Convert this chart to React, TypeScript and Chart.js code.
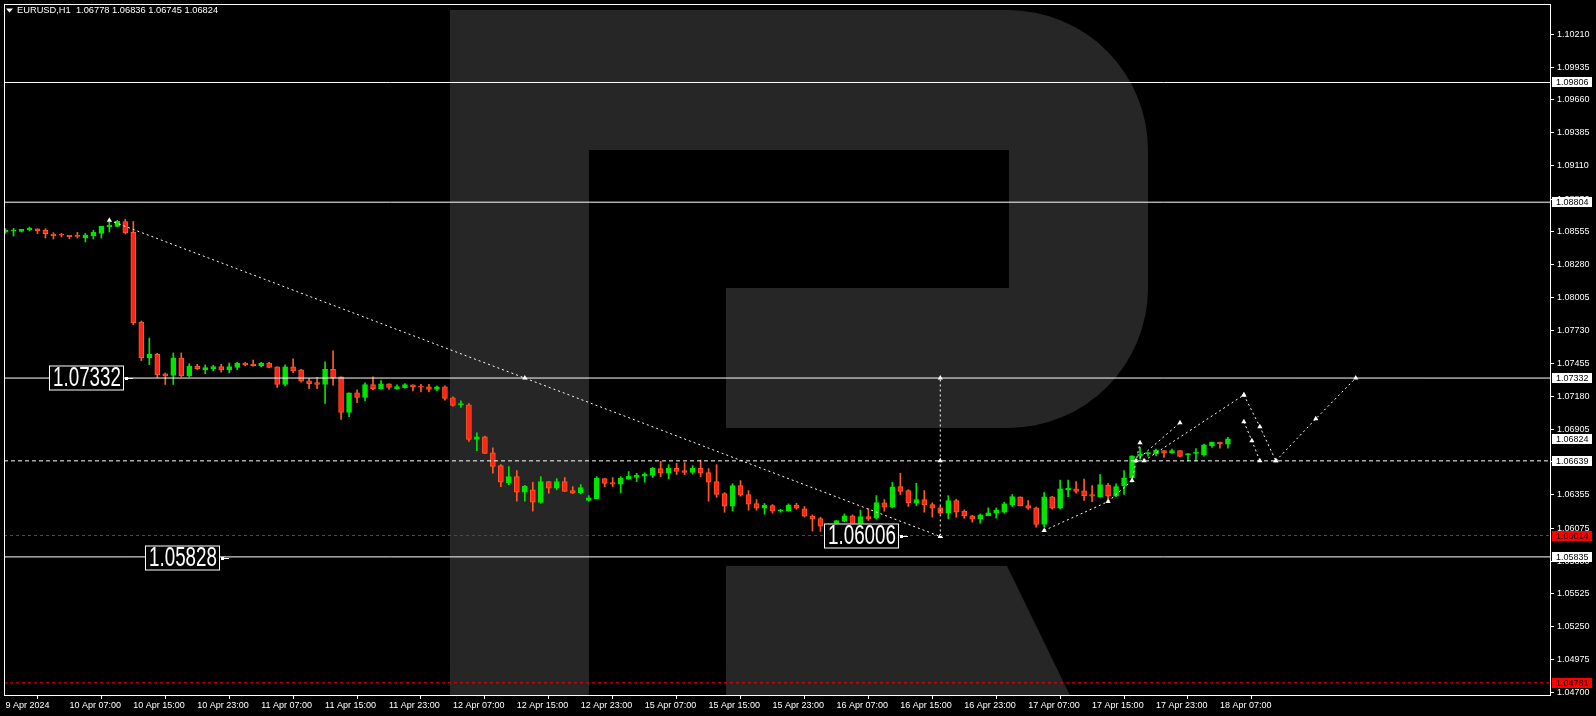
import React, { useEffect, useRef } from "react";
import { Chart, registerables } from "chart.js";

Chart.register(...registerables);

const HEADER_TEXT = "EURUSD,H1  1.06778 1.06836 1.06745 1.06824";

const TIME_TICK_BARS = [0, 8, 16, 24, 32, 40, 48, 56, 64, 72, 80, 88, 96, 104, 112, 120, 128, 136, 144, 152];
const TIME_TICK_LABELS = [
  "9 Apr 2024", "10 Apr 07:00", "10 Apr 15:00", "10 Apr 23:00", "11 Apr 07:00", "11 Apr 15:00",
  "11 Apr 23:00", "12 Apr 07:00", "12 Apr 15:00", "12 Apr 23:00", "15 Apr 07:00", "15 Apr 15:00",
  "15 Apr 23:00", "16 Apr 07:00", "16 Apr 15:00", "16 Apr 23:00", "17 Apr 07:00", "17 Apr 15:00",
  "17 Apr 23:00", "18 Apr 07:00",
];

const PRICE_TICKS = [
  1.047, 1.04975, 1.0525, 1.05525, 1.058, 1.06075, 1.06355, 1.0663, 1.06905, 1.0718, 1.07455,
  1.0773, 1.08005, 1.0828, 1.08555, 1.0883, 1.0911, 1.09385, 1.0966, 1.09935, 1.1021,
];

const OPEN = [
  1.08554, 1.08563, 1.0856, 1.08571, 1.08582, 1.08568, 1.08538, 1.08532, 1.08527, 1.08524,
  1.08504, 1.08521, 1.08543, 1.08596, 1.08602, 1.08641, 1.08552, 1.078, 1.075, 1.07531,
  1.07367, 1.07353, 1.075, 1.0735, 1.07433, 1.074, 1.07411, 1.07428, 1.074, 1.0742,
  1.07458, 1.0745, 1.07433, 1.07458, 1.07425, 1.07278, 1.07425, 1.074, 1.07308, 1.07294,
  1.07278, 1.07406, 1.07342, 1.07044, 1.07208, 1.07169, 1.07277, 1.07244, 1.07283, 1.07244,
  1.07252, 1.07275, 1.07261, 1.07258, 1.07236, 1.07258, 1.07166, 1.07108, 1.07108, 1.06818,
  1.06841, 1.06707, 1.06599, 1.06457, 1.06507, 1.06376, 1.06396, 1.0629, 1.06466, 1.0641,
  1.06466, 1.0639, 1.06373, 1.06307, 1.06323, 1.0649, 1.06457, 1.06443, 1.06485, 1.06501,
  1.0651, 1.06518, 1.06574, 1.06535, 1.06576, 1.06557, 1.06543, 1.06576, 1.0654, 1.06466,
  1.06365, 1.06259, 1.06432, 1.06357, 1.06282, 1.06243, 1.06265, 1.06218, 1.06218, 1.06268,
  1.06237, 1.06176, 1.06156, 1.06095, 1.06104, 1.06131, 1.06179, 1.06095, 1.06173, 1.06159,
  1.06287, 1.06251, 1.06423, 1.0639, 1.06284, 1.06315, 1.06273, 1.06245, 1.06201, 1.06307,
  1.06218, 1.06179, 1.06151, 1.06181, 1.06201, 1.06209, 1.06273, 1.06337, 1.06265, 1.06245,
  1.06106, 1.06337, 1.06243, 1.06396, 1.06404, 1.06387, 1.06357, 1.0634, 1.06437, 1.06343,
  1.06429, 1.06496, 1.06679, 1.06699, 1.06699, 1.06724, 1.06704, 1.06724, 1.06688, 1.06702,
  1.06688, 1.06766, 1.06796, 1.06778,
];
const HIGH = [
  1.08582, 1.08585, 1.08577, 1.08596, 1.08582, 1.08582, 1.08549, 1.08543, 1.08527, 1.08552,
  1.08543, 1.08568, 1.08602, 1.08635, 1.08652, 1.0866, 1.08643, 1.07809, 1.07667, 1.07539,
  1.07375, 1.07542, 1.07542, 1.07453, 1.07447, 1.07442, 1.07439, 1.07447, 1.07458, 1.07464,
  1.07464, 1.07483, 1.07464, 1.07464, 1.07425, 1.07442, 1.07492, 1.07406, 1.0733, 1.07339,
  1.07467, 1.07559, 1.07342, 1.07208, 1.07233, 1.07291, 1.07342, 1.0731, 1.07283, 1.07275,
  1.07286, 1.07275, 1.0728, 1.0728, 1.07266, 1.07266, 1.07175, 1.07141, 1.07119, 1.06874,
  1.06846, 1.06749, 1.06607, 1.0659, 1.06557, 1.06434, 1.0646, 1.06507, 1.06466, 1.0649,
  1.06499, 1.06423, 1.0644, 1.06348, 1.06507, 1.0649, 1.06499, 1.06507, 1.06549, 1.06535,
  1.0654, 1.06585, 1.06635, 1.06607, 1.06618, 1.06624, 1.06599, 1.06646, 1.06574, 1.06607,
  1.06373, 1.06448, 1.06474, 1.0639, 1.06315, 1.06282, 1.06273, 1.06234, 1.06279, 1.06284,
  1.06257, 1.06187, 1.06168, 1.06117, 1.0614, 1.06195, 1.06187, 1.06226, 1.06237, 1.06348,
  1.06315, 1.0646, 1.06535, 1.06398, 1.06451, 1.0639, 1.06287, 1.06257, 1.06348, 1.06318,
  1.06229, 1.06184, 1.06195, 1.06245, 1.06245, 1.06293, 1.06357, 1.06337, 1.06307, 1.06251,
  1.06373, 1.06343, 1.06479, 1.06479, 1.06465, 1.06487, 1.06432, 1.06524, 1.06451, 1.06446,
  1.06557, 1.06682, 1.06752, 1.06713, 1.06738, 1.06724, 1.06738, 1.06724, 1.06699, 1.06741,
  1.0678, 1.06796, 1.06796, 1.06836,
];
const LOW = [
  1.08543, 1.08521, 1.08554, 1.08563, 1.08541, 1.08504, 1.08496, 1.08513, 1.08499, 1.08504,
  1.08471, 1.08496, 1.08504, 1.08554, 1.08596, 1.08538, 1.07778, 1.07478, 1.07444, 1.07336,
  1.07278, 1.07278, 1.07342, 1.07342, 1.07403, 1.07369, 1.07392, 1.07381, 1.07375, 1.07403,
  1.07433, 1.07431, 1.07425, 1.07417, 1.07253, 1.07267, 1.07378, 1.07297, 1.07244, 1.07244,
  1.07119, 1.07272, 1.06985, 1.07008, 1.07127, 1.07141, 1.07233, 1.07239, 1.07236, 1.07239,
  1.07247, 1.07225, 1.07216, 1.07216, 1.07227, 1.07147, 1.07097, 1.07086, 1.06802, 1.06724,
  1.06699, 1.06535, 1.06423, 1.0644, 1.06301, 1.06301, 1.06218, 1.06284, 1.06368, 1.06396,
  1.06382, 1.06365, 1.06362, 1.06301, 1.06323, 1.06423, 1.06423, 1.06373, 1.06485, 1.06465,
  1.0646, 1.06499, 1.06507, 1.0649, 1.06524, 1.06524, 1.06529, 1.06507, 1.06301, 1.06334,
  1.06209, 1.06218, 1.06343, 1.06226, 1.06226, 1.06193, 1.06201, 1.06209, 1.06218, 1.06234,
  1.06168, 1.06051, 1.06048, 1.06056, 1.06095, 1.06129, 1.06028, 1.0609, 1.0614, 1.06151,
  1.06218, 1.06245, 1.06357, 1.06257, 1.06265, 1.06209, 1.06168, 1.06195, 1.06154, 1.06168,
  1.06159, 1.06126, 1.06117, 1.06181, 1.06159, 1.06201, 1.06257, 1.06262, 1.06234, 1.06084,
  1.06084, 1.06234, 1.06237, 1.0634, 1.06368, 1.06307, 1.06298, 1.06334, 1.0632, 1.0634,
  1.06357, 1.0646, 1.06654, 1.06679, 1.06682, 1.06668, 1.06704, 1.06674, 1.06638, 1.06638,
  1.06679, 1.06752, 1.06746, 1.06745,
];
const CLOSE = [
  1.08571, 1.08568, 1.08577, 1.08588, 1.08563, 1.08541, 1.08524, 1.08527, 1.08515, 1.08518,
  1.08529, 1.08552, 1.08602, 1.08613, 1.08643, 1.08546, 1.07795, 1.07503, 1.07533, 1.07361,
  1.0735, 1.075, 1.0735, 1.07433, 1.07411, 1.0742, 1.07428, 1.074, 1.07428, 1.07458,
  1.07444, 1.07436, 1.07458, 1.0742, 1.07278, 1.07425, 1.07392, 1.07305, 1.07286, 1.07278,
  1.07406, 1.07336, 1.07044, 1.07208, 1.07169, 1.07277, 1.07244, 1.07283, 1.07253, 1.07261,
  1.07278, 1.07258, 1.07255, 1.07236, 1.07258, 1.07161, 1.07102, 1.07119, 1.06818, 1.06841,
  1.06702, 1.06593, 1.0646, 1.06507, 1.06376, 1.06426, 1.06293, 1.06466, 1.0641, 1.06466,
  1.06384, 1.06368, 1.06415, 1.06329, 1.06493, 1.06451, 1.06443, 1.06493, 1.0651, 1.06518,
  1.06526, 1.06576, 1.06535, 1.06576, 1.06551, 1.06543, 1.06576, 1.06535, 1.0646, 1.06359,
  1.06259, 1.06432, 1.06351, 1.06276, 1.06243, 1.06268, 1.06218, 1.06229, 1.06268, 1.06243,
  1.06176, 1.06151, 1.06092, 1.06112, 1.0614, 1.06179, 1.06095, 1.06173, 1.06151, 1.0629,
  1.06251, 1.06421, 1.06384, 1.06287, 1.06315, 1.0627, 1.06243, 1.06201, 1.06307, 1.06209,
  1.06179, 1.06151, 1.06187, 1.06204, 1.06226, 1.06279, 1.0634, 1.06262, 1.06243, 1.06106,
  1.06337, 1.06243, 1.06404, 1.0641, 1.06384, 1.06348, 1.06343, 1.0644, 1.06343, 1.06423,
  1.06496, 1.06682, 1.06696, 1.06707, 1.06727, 1.06704, 1.06724, 1.06677, 1.06699, 1.06707,
  1.06774, 1.06796, 1.06782, 1.06824,
];

const SOLID_LEVELS = [1.09806, 1.08804, 1.07332, 1.05835];
const WHITE_DASH_LEVELS = [1.06639];
const RED_DASH_LEVELS = [1.06014, 1.04781];
const AXIS_WHITE_TAGS = [1.09806, 1.08804, 1.07332, 1.06824, 1.06639, 1.05835];
const AXIS_RED_TAGS = [1.06014, 1.04781];

const PRICE_LABEL_BARS = [15, 27, 112];
const PRICE_LABEL_VALUES = [1.07332, 1.05828, 1.06006];

const TREND_LINE = [[13, 1.08652], [65, 1.07332], [117, 1.06006]];
const TARGET_LINE = [[117, 1.06006], [117, 1.06639], [117, 1.07332]];
const SWING_PATH = [[130, 1.06056], [138, 1.06298], [141, 1.06474], [142, 1.06791]];
const FORECAST_UP_A = [[141.5, 1.06639], [147, 1.06958]];
const FORECAST_UP_B = [[142.5, 1.06639], [155, 1.07191]];
const FORECAST_DOWN_A = [[155, 1.07191], [157, 1.06924], [159, 1.06639]];
const FORECAST_DOWN_B = [[155, 1.06966], [156, 1.06807], [157, 1.06639]];
const FORECAST_FINAL = [[159, 1.06639], [164, 1.06991], [169, 1.07332]];

const X_MIN = -0.1875;
const X_MAX = 193.3125;
const Y_MIN = 1.046791;
const Y_MAX = 1.104629;

const BULL = "#00e600";
const BEAR_FILL = "#ff2418";
const BEAR_EDGE = "#ff5a28";
const FONT = "'Liberation Sans', Arial, sans-serif";

const toPts = (arr: number[][]) => arr.map(([x, y]) => ({ x, y }));

export default function App() {
  const ref = useRef<HTMLCanvasElement | null>(null);

  useEffect(() => {
    const canvas = ref.current;
    if (!canvas) return;
    const up = CLOSE.map((c, i) => c >= OPEN[i]);

    const levelSet = (levels: number[], color: string, dash: number[]) =>
      levels.map((p) => ({
        type: "line" as const,
        data: [{ x: X_MIN, y: p }, { x: X_MAX, y: p }],
        borderColor: color,
        borderWidth: 1,
        borderDash: dash,
        pointRadius: 0,
        order: 0,
      }));

    const pathSet = (arr: number[][]) => ({
      type: "line" as const,
      data: toPts(arr),
      borderColor: "#ffffff",
      borderWidth: 1,
      borderDash: [2, 3],
      pointRadius: 3,
      pointStyle: "triangle",
      pointBackgroundColor: "#ffffff",
      pointBorderColor: "#ffffff",
      pointBorderWidth: 0,
      tension: 0,
      order: 0,
    });

    const logoPlugin = {
      id: "logo",
      beforeDatasetsDraw(chart: any) {
        const { ctx, chartArea: a } = chart;
        ctx.save();
        ctx.beginPath();
        ctx.rect(a.left, a.top, a.right - a.left, a.bottom - a.top);
        ctx.clip();
        ctx.fillStyle = "#262626";
        ctx.fillRect(450, 10, 139, 720);
        ctx.beginPath();
        ctx.moveTo(589, 10);
        ctx.lineTo(1008, 10);
        ctx.arcTo(1148, 10, 1148, 150, 140);
        ctx.lineTo(1148, 288);
        ctx.arcTo(1148, 428, 1008, 428, 140);
        ctx.lineTo(726, 428);
        ctx.lineTo(726, 288);
        ctx.lineTo(1009, 288);
        ctx.lineTo(1009, 150);
        ctx.lineTo(589, 150);
        ctx.closePath();
        ctx.fill();
        ctx.beginPath();
        ctx.moveTo(726, 566);
        ctx.lineTo(1007, 566);
        ctx.lineTo(1080, 716);
        ctx.lineTo(726, 716);
        ctx.closePath();
        ctx.fill();
        ctx.restore();
      },
    };

    const overlayPlugin = {
      id: "overlay",
      afterDraw(chart: any) {
        const { ctx, chartArea: a, scales } = chart;
        const xs = scales.x;
        const ys = scales.y;
        ctx.save();
        ctx.strokeStyle = "#ffffff";
        ctx.lineWidth = 1;
        ctx.strokeRect(a.left + 0.5, a.top + 0.5, a.right - a.left, a.bottom - a.top);

        ctx.fillStyle = "#ffffff";
        ctx.beginPath();
        ctx.moveTo(6, 8.5);
        ctx.lineTo(13, 8.5);
        ctx.lineTo(9.5, 12.5);
        ctx.closePath();
        ctx.fill();
        ctx.font = `9.3px ${FONT}`;
        ctx.textBaseline = "middle";
        ctx.textAlign = "left";
        ctx.fillText(HEADER_TEXT, 17, 10.5);

        PRICE_LABEL_BARS.forEach((bar, i) => {
          const val = PRICE_LABEL_VALUES[i];
          const ax = Math.round(xs.getPixelForValue(bar));
          const ay = Math.round(ys.getPixelForValue(val));
          const w = 75;
          const h = 25;
          const right = ax - 1;
          ctx.fillStyle = "#000000";
          ctx.fillRect(right - w, ay - h / 2, w, h);
          ctx.strokeStyle = "#ffffff";
          ctx.strokeRect(right - w + 0.5, ay - h / 2 + 0.5, w - 1, h - 1);
          ctx.fillStyle = "#ffffff";
          ctx.fillRect(ax, ay - 1, 3, 3);
          ctx.fillRect(ax, ay, 8, 1);
          const txt = val.toFixed(5);
          ctx.font = `27px ${FONT}`;
          const mw = ctx.measureText(txt).width;
          ctx.save();
          ctx.translate(right - w + 4, ay + 1);
          ctx.scale(68 / mw, 1);
          ctx.textBaseline = "middle";
          ctx.textAlign = "left";
          ctx.fillText(txt, 0, 0);
          ctx.restore();
        });

        const tag = (p: number, bg: string) => {
          const y = Math.round(ys.getPixelForValue(p));
          ctx.fillStyle = bg;
          ctx.fillRect(1552, y - 5, 40, 10);
          ctx.fillStyle = "#000000";
          ctx.font = `9px ${FONT}`;
          ctx.textAlign = "left";
          ctx.textBaseline = "middle";
          ctx.fillText(p.toFixed(5), 1556, y + 0.5);
        };
        AXIS_WHITE_TAGS.forEach((p) => tag(p, "#ffffff"));
        AXIS_RED_TAGS.forEach((p) => tag(p, "#ff0000"));
        ctx.restore();
      },
    };

    const chart = new Chart(canvas, {
      type: "bar",
      data: {
        datasets: [
          ...levelSet(SOLID_LEVELS, "#ffffff", []),
          ...levelSet(WHITE_DASH_LEVELS, "#ffffff", [4, 3]),
          ...levelSet(RED_DASH_LEVELS, "#ff0000", [3, 3]),
          pathSet(TREND_LINE),
          pathSet(TARGET_LINE),
          pathSet(SWING_PATH),
          pathSet(FORECAST_UP_A),
          pathSet(FORECAST_UP_B),
          pathSet(FORECAST_DOWN_A),
          pathSet(FORECAST_DOWN_B),
          pathSet(FORECAST_FINAL),
          {
            type: "bar" as const,
            data: OPEN.map((o, i) => ({ x: i, y: [o, CLOSE[i]] })) as any,
            backgroundColor: up.map((u) => (u ? BULL : BEAR_FILL)),
            borderColor: up.map((u) => (u ? BULL : BEAR_EDGE)),
            borderWidth: 1,
            borderSkipped: false,
            barThickness: 5,
            minBarLength: 1,
            grouped: false,
            order: 1,
          },
          {
            type: "bar" as const,
            data: LOW.map((l, i) => ({ x: i, y: [l, HIGH[i]] })) as any,
            backgroundColor: up.map((u) => (u ? BULL : BEAR_EDGE)),
            borderWidth: 0,
            barThickness: 1,
            minBarLength: 1,
            grouped: false,
            order: 2,
          },
        ] as any,
      },
      options: {
        animation: false,
        responsive: false,
        devicePixelRatio: 1,
        events: [],
        layout: { padding: { left: 2, top: 2, right: 0, bottom: 0 } },
        plugins: { legend: { display: false }, tooltip: { enabled: false } },
        scales: {
          x: {
            type: "linear",
            position: "bottom",
            min: X_MIN,
            max: X_MAX,
            offset: false,
            afterBuildTicks: (s: any) => {
              s.ticks = TIME_TICK_BARS.map((v) => ({ value: v }));
            },
            afterFit: (s: any) => {
              s.height = 21;
              s.paddingLeft = 0;
              s.paddingRight = 0;
            },
            ticks: {
              autoSkip: false,
              maxRotation: 0,
              minRotation: 0,
              align: "start",
              padding: 1,
              color: "#ffffff",
              font: { family: FONT, size: 9 },
              callback: (v: any) => TIME_TICK_LABELS[TIME_TICK_BARS.indexOf(Number(v))] ?? "",
            },
            grid: { drawOnChartArea: false, drawTicks: true, tickLength: 4, color: "#ffffff" },
            border: { display: false },
          },
          y: {
            type: "linear",
            position: "right",
            min: Y_MIN,
            max: Y_MAX,
            afterBuildTicks: (s: any) => {
              s.ticks = PRICE_TICKS.map((v) => ({ value: v }));
            },
            afterFit: (s: any) => {
              s.width = 46;
              s.paddingTop = 0;
              s.paddingBottom = 0;
            },
            ticks: {
              autoSkip: false,
              padding: 3,
              color: "#ffffff",
              font: { family: FONT, size: 9 },
              callback: (v: any) => Number(v).toFixed(5),
            },
            grid: { drawOnChartArea: false, drawTicks: true, tickLength: 4, color: "#ffffff" },
            border: { display: false },
          },
        },
      } as any,
      plugins: [logoPlugin, overlayPlugin],
    });

    return () => chart.destroy();
  }, []);

  return (
    <div style={{ position: "fixed", left: 0, top: 0, width: 1596, height: 716, background: "#000000" }}>
      <canvas ref={ref} width={1596} height={716} style={{ display: "block", background: "#000000" }} />
    </div>
  );
}
